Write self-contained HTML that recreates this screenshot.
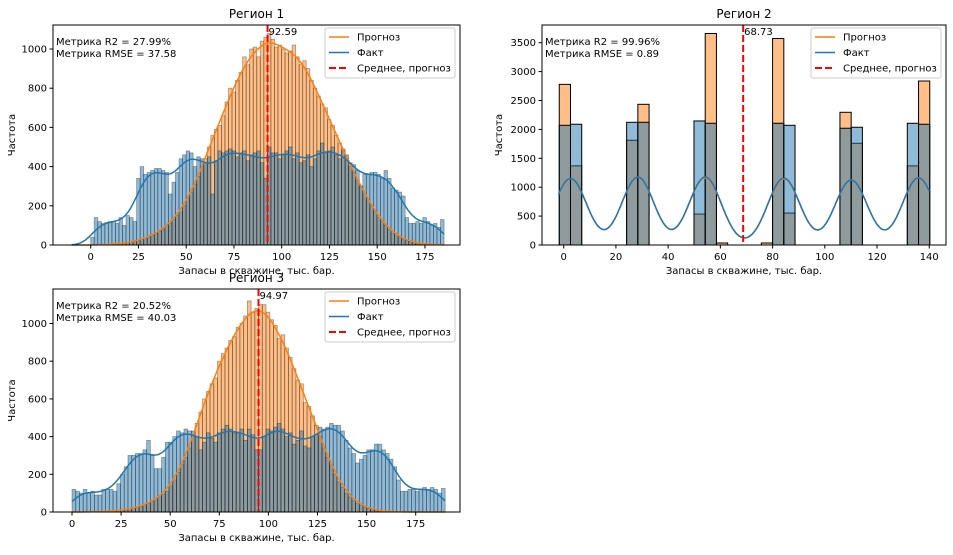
<!DOCTYPE html>
<html><head><meta charset="utf-8"><style>
body{margin:0;background:#fff}
svg text{font-family:"DejaVu Sans","Liberation Sans",sans-serif;fill:#000}
</style></head><body>
<svg id="chart" width="953" height="550" viewBox="0 0 953 550" xmlns="http://www.w3.org/2000/svg"></svg>
<script>
// Region 1 data (100 bins, 0..185)
const r1Fact=[40,140,120,110,115,120,120,110,140,100,150,140,120,340,400,360,370,380,390,390,380,370,260,320,370,440,460,480,470,400,450,440,420,450,260,430,480,470,480,490,480,450,470,480,430,460,470,480,420,340,500,470,470,440,460,480,500,440,470,420,430,460,400,440,480,520,470,480,500,460,440,490,460,400,410,380,300,360,360,370,370,360,340,380,340,290,280,270,250,140,110,110,120,110,140,120,100,110,90,130];
const r1Pred=[0,0,0,1,2,3,4,6,8,10,12,15,18,22,28,34,40,50,60,70,80,100,110,130,150,170,200,240,270,310,350,400,440,500,560,590,610,660,730,800,780,840,880,960,920,1000,1010,960,1040,1060,1080,1050,1010,1020,1000,980,990,1020,960,920,940,900,840,800,760,720,700,640,610,560,520,480,440,420,370,330,300,260,230,200,170,140,120,100,80,60,50,40,30,22,16,12,8,6,4,3,2,1,1,0];
const r1Labels={mean:"92.59",r2:"Метрика R2 = 27.99%",rmse:"Метрика RMSE = 37.58"};
const r1Mean=92.59;
// Region 2 data (33 bins from -1.7, width 4.3)
const r2Fact=[2071,2089,0,0,0,0,2123,2123,0,0,0,0,2146,2106,0,0,0,0,0,2106,2071,0,0,0,0,2020,2037,0,0,0,0,2106,2089];
const r2Pred=[2779,1369,0,0,0,0,1812,2434,0,0,0,0,535,3659,35,0,0,0,35,3573,552,0,0,0,0,2296,1760,0,0,0,0,1369,2837];
const r2Mean=68.73;
const r2Labels={mean:"68.73",r2:"Метрика R2 = 99.96%",rmse:"Метрика RMSE = 0.89"};
// Region 3 data (100 bins, 0..190)
const r3Fact=[120,110,100,120,100,110,90,90,120,120,120,110,150,200,240,300,300,310,310,330,380,300,230,230,290,370,370,400,430,420,440,430,430,400,330,370,420,390,370,420,440,460,440,420,420,440,380,440,410,330,330,400,440,430,450,470,440,400,420,360,380,430,350,340,400,410,450,440,450,470,460,460,430,380,340,310,260,280,300,330,330,360,360,330,310,280,240,170,110,110,120,120,110,120,130,120,130,120,100,125];
const r3Pred=[0,0,0,0,0,1,1,2,3,4,5,6,8,10,12,16,20,25,30,38,45,55,65,80,95,110,140,170,210,250,290,340,400,470,530,600,640,680,710,800,840,870,910,930,980,1000,1040,1120,1060,1080,1100,1100,1060,1020,990,920,940,870,820,760,700,680,580,560,510,460,400,340,290,250,200,160,130,100,80,60,45,35,25,18,12,9,6,4,3,2,1,1,0,0,0,0,0,0,0,0,0,0,0,0];
const r3Mean=94.97;
const r3Labels={mean:"94.97",r2:"Метрика R2 = 20.52%",rmse:"Метрика RMSE = 40.03"};
const r1YTicks=[0,200,400,600,800,1000];
const r2YTicks=[0,500,1000,1500,2000,2500,3000,3500];
const r3YTicks=[0,200,400,600,800,1000];
const r1XTicks=[0,25,50,75,100,125,150,175];
const r2XTicks=[0,20,40,60,80,100,120,140];
const r3XTicks=[0,25,50,75,100,125,150,175];

const NS="http://www.w3.org/2000/svg";
const svg=document.getElementById('chart');
function mk(tag,attrs,parent){const e=document.createElementNS(NS,tag);for(const k in attrs)e.setAttribute(k,attrs[k]);(parent||svg).appendChild(e);return e;}
function kdePts(pts,w,sigma,xs){return xs.map(x=>{let s=0;for(const [c,h] of pts){const d=(x-c)/sigma;s+=h*w*Math.exp(-0.5*d*d)/(Math.sqrt(2*Math.PI)*sigma);}return s;});}
function binPts(h,x0,w){return h.map((v,i)=>[x0+w*(i+0.5),v]);}
function clusterPts(h,x0,w){
  // merge runs of substantial bins into one point at the run's midpoint
  const pts=[];let i=0;
  while(i<h.length){
    if(h[i]<100){i++;continue;}
    let j=i,s=0;while(j<h.length&&h[j]>=100){s+=h[j];j++;}
    pts.push([x0+w*(i+j)/2,s]);i=j;
  }
  return pts;
}

function panel(p){
  const g=mk('g',{});
  
  
  const X=v=>p.x0px+(v-p.xa)*p.kx;
  const Y=v=>p.y0px-v*p.ky;
  mk('rect',{x:p.L,y:p.T,width:p.R-p.L,height:p.B-p.T,fill:'#fff'},g);
  const bars=mk('g',{},g);
  
  
  const series=[[p.pred,'#ff7f0e'],[p.fact,'#1f77b4']];
  series.forEach(([arr,col])=>{
    arr.forEach((v,i)=>{
      if(v<=0)return;
      const xl=X(p.bx0+i*p.bw),xr=X(p.bx0+(i+1)*p.bw);
      const r=mk('rect',{x:xl,y:Y(v),width:xr-xl,height:Y(0)-Y(v),fill:col,'fill-opacity':0.5,stroke:'#000','stroke-opacity':p.edgeOp,'stroke-width':p.edgeW},bars);
      
      
    });
  });
  // KDE
  [[p.pred,'#ff7f0e','kde-forecast'],[p.fact,'#1f77b4','kde-fact']].forEach(([arr,col,nm])=>{
    const xs=[];for(let i=0;i<=300;i++)xs.push(p.ka+(p.kb-p.ka)*i/300);
    const pts=p.cluster?clusterPts(arr,p.bx0,p.bw):binPts(arr,p.bx0,p.bw);
    const ys=kdePts(pts,p.bw,p.sigma,xs);
    const d=xs.map((x,i)=>(i?'L':'M')+X(x).toFixed(1)+','+Y(ys[i]).toFixed(1)).join('');
    const l=mk('path',{d:d,fill:'none',stroke:col,'stroke-width':1.5},g);
    
    
  });
  // mean line
  const ml=mk('line',{x1:X(p.mean),x2:X(p.mean),y1:p.T,y2:p.B,stroke:'#ff0000','stroke-width':2,'stroke-dasharray':'7,3'},g);
  
  
  const mt=mk('text',{x:X(p.mean)+1,y:p.T+10,'font-size':10},g);mt.textContent=p.labels.mean;
  
  
  // frame
  mk('rect',{x:p.L,y:p.T,width:p.R-p.L,height:p.B-p.T,fill:'none',stroke:'#000','stroke-width':1},g);
  // ticks
  p.yt.forEach(v=>{const y=Y(v);mk('line',{x1:p.L-3.5,x2:p.L,y1:y,y2:y,stroke:'#000'},g);
    const t=mk('text',{x:p.L-6,y:y+3.5,'font-size':10,'text-anchor':'end'},g);t.textContent=v;
    
    });
  p.xt.forEach(v=>{const x=X(v);mk('line',{x1:x,x2:x,y1:p.B,y2:p.B+3.5,stroke:'#000'},g);
    const t=mk('text',{x:x,y:p.B+15,'font-size':10,'text-anchor':'middle'},g);t.textContent=v;
    
    });
  const xl=mk('text',{x:(p.L+p.R)/2,y:p.B+29,'font-size':10,'text-anchor':'middle'},g);xl.textContent='Запасы в скважине, тыс. бар.';
  
  
  const cy=(p.T+p.B)/2;
  const yl=mk('text',{x:p.ylx,y:cy,'font-size':10,'text-anchor':'middle',transform:`rotate(-90 ${p.ylx} ${cy})`},g);yl.textContent='Частота';
  
  
  const ti=mk('text',{x:(p.L+p.R)/2,y:p.T-7,'font-size':12,'text-anchor':'middle'},g);ti.textContent=p.title;
  
  
  const a1=mk('text',{x:p.L+3,y:p.T+20,'font-size':10},g);a1.textContent=p.labels.r2;
  
  
  const a2=mk('text',{x:p.L+3,y:p.T+32,'font-size':10},g);a2.textContent=p.labels.rmse;
  
  
  // legend
  const lg=mk('g',{},g);
  
  
  const lx=p.legX,ly=p.T+3;
  mk('rect',{x:lx,y:ly,width:130,height:50,fill:'#fff','fill-opacity':0.8,stroke:'#ccc',rx:2},lg);
  [['Прогноз','#ff7f0e',null],['Факт','#1f77b4',null],['Среднее, прогноз','#ff0000','7,3']].forEach((e,i)=>{
    const y=ly+9+i*15.5;
    const ln=mk('line',{x1:lx+4,x2:lx+24,y1:y,y2:y,stroke:e[1],'stroke-width':e[2]?2:1.5},lg);
    if(e[2])ln.setAttribute('stroke-dasharray',e[2]);
    const t=mk('text',{x:lx+32,y:y+3.5,'font-size':10},lg);t.textContent=e[0];
    
    
  });
}

panel({name:'region-1-panel',title:'Регион 1',fact:r1Fact,pred:r1Pred,mean:r1Mean,labels:r1Labels,
  L:53,R:460,T:25,B:245,x0px:90.7,xa:0,kx:1.91,y0px:245,ky:39.2/200,
  bx0:0,bw:1.85,sigma:4.8,ka:-10,kb:185,yt:r1YTicks,xt:r1XTicks,edgeOp:0.35,edgeW:0.8,ylx:15,legX:325});
panel({name:'region-2-panel',title:'Регион 2',fact:r2Fact,pred:r2Pred,mean:r2Mean,labels:r2Labels,cluster:true,
  L:542,R:946,T:25,B:245,x0px:563.7,xa:0,kx:2.611,y0px:245,ky:28.9/500,
  bx0:-1.7,bw:4.3,sigma:6.2,ka:-2,kb:140,yt:r2YTicks,xt:r2XTicks,edgeOp:1,edgeW:1,ylx:502,legX:811});
panel({name:'region-3-panel',title:'Регион 3',fact:r3Fact,pred:r3Pred,mean:r3Mean,labels:r3Labels,
  L:53,R:460,T:289,B:512,x0px:72,xa:0,kx:1.964,y0px:512,ky:37.7/200,
  bx0:0,bw:1.9,sigma:4.8,ka:0,kb:190,yt:r3YTicks,xt:r3XTicks,edgeOp:0.35,edgeW:0.8,ylx:15,legX:325});
</script>
</body></html>
